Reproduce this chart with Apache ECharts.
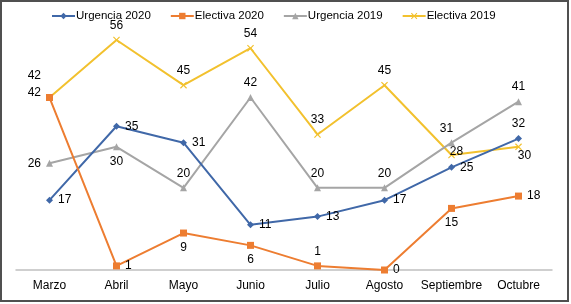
<!DOCTYPE html>
<html><head><meta charset="utf-8">
<script src="https://cdn.jsdelivr.net/npm/echarts@6/dist/echarts.min.js"></script>
<style>
html,body{margin:0;padding:0;background:#fff;}
#frame{position:absolute;left:0;top:0;width:565px;height:298px;border:2px solid #505050;}
#c{position:absolute;left:0;top:0;width:571px;height:304px;}
</style></head>
<body><div id="frame"></div><div id="c"></div>
<script>
const categories = ['Marzo','Abril','Mayo','Junio','Julio','Agosto','Septiembre','Octubre'];
const urgencia2020 = [17, 35, 31, 11, 13, 17, 25, 32];
const electiva2020 = [42, 1, 9, 6, 1, 0, 15, 18];
const urgencia2019 = [26, 30, 20, 42, 20, 20, 31, 41];
const electiva2019 = [42, 56, 45, 54, 33, 45, 28, 30];

const posU20 = ['right','right','right','right','right','right','right','top'];
const posE20 = ['left','right','bottom','bottom','top','right','bottom','right'];
const posU19 = ['left','bottom','top','top','top','top','top','top'];
const posE19 = ['left','top','top','top','top','top','inside','bottom'];
const offE20 = {0:[0,-5]};
const offU19 = {6:[-5,0]};
const offE19 = {0:[0,-22], 6:[5,-3], 7:[6,-6]};

function items(vals, pos, offs){
  return vals.map((v,i)=>({value:v, label:{show:true, position:pos[i], offset:(offs&&offs[i])||[0,0]}}));
}
const crossPath = 'path://M0,1.2L1.2,0L5,3.8L8.8,0L10,1.2L6.2,5L10,8.8L8.8,10L5,6.2L1.2,10L0,8.8L3.8,5Z';
const lbl = {color:'#000', fontSize:12, fontFamily:'Liberation Sans, Arial, sans-serif', distance:5};

const chart = echarts.init(document.getElementById('c'));
chart.setOption({
  animation:false,
  textStyle:{fontFamily:'Liberation Sans, Arial, sans-serif'},
  legend:{left:46, top:5, itemWidth:23, itemHeight:8, itemGap:19,
    textStyle:{fontSize:11.5, color:'#000', padding:[0,0,0,-4]},
    data:['Urgencia 2020','Electiva 2020','Urgencia 2019','Electiva 2019']},
  grid:{left:16, right:19, top:23.6, bottom:34},
  xAxis:{type:'category', data:categories, boundaryGap:true,
    axisLine:{lineStyle:{color:'#c0c0c0', width:1.5}}, axisTick:{show:false},
    axisLabel:{color:'#000', fontSize:12, margin:10, interval:0}},
  yAxis:{type:'value', min:0, max:60, show:false, splitLine:{show:false}},
  series:[
    {name:'Urgencia 2020', type:'line', data:items(urgencia2020,posU20), symbol:'diamond', symbolSize:7,
      itemStyle:{color:'#4068A8'}, lineStyle:{width:2}, label:lbl, z:4},
    {name:'Electiva 2020', type:'line', data:items(electiva2020,posE20,offE20), symbol:'rect', symbolSize:7,
      itemStyle:{color:'#ED7D31'}, lineStyle:{width:2}, label:lbl, z:5},
    {name:'Urgencia 2019', type:'line', data:items(urgencia2019,posU19,offU19), symbol:'triangle', symbolSize:7,
      itemStyle:{color:'#A5A5A5'}, lineStyle:{width:2}, label:lbl, z:3},
    {name:'Electiva 2019', type:'line', data:items(electiva2019,posE19,offE19), symbol:crossPath, symbolSize:7,
      itemStyle:{color:'#F2C12E'}, lineStyle:{width:2}, label:lbl, z:2}
  ]
});
</script></body></html>
